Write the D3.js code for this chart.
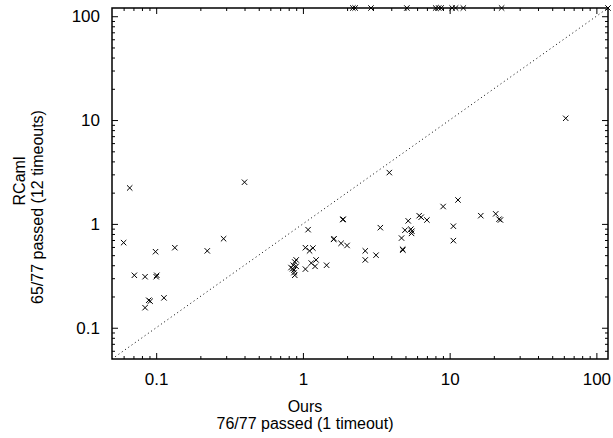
<!DOCTYPE html>
<html lang="en">
<head>
    <meta charset="UTF-8">
    <title>Ours vs RCaml</title>
    <script src="https://d3js.org/d3.v7.min.js"></script>
    <style>
        body {
            margin: 0;
            background: #fff;
        }
        text {
            font-family: "Liberation Sans", Arial, Helvetica, sans-serif;
            fill: #000;
        }
        .tick line { stroke: #000; stroke-width: 1; }
    </style>
</head>
<body>
    <svg id="chart" width="613" height="438"></svg>

    <script>
        // run times in seconds, one entry per benchmark; null = timeout
        const TIMEOUT = 120;
        const oursTimes = [
            0.066, 0.060, 0.099, 0.134, 0.223, 0.288, 0.071, 0.084, 0.100, 0.101,
            0.113, 0.089, 0.091, 0.084, 0.40,
            0.83, 0.86, 0.90, 0.85, 0.87, 0.88, 0.90, 1.04, 1.085, 1.04,
            1.11, 1.17, 1.14, 1.23, 1.21, 1.45, 1.87, 1.88, 1.62, 1.63,
            1.82, 2.0, 2.66, 3.15, 2.66, 3.37, 3.88,
            11.4, 9.03, 16.3, 20.6, 21.7, 22.2, 6.2, 6.4, 7.0, 5.22,
            10.6, 4.96, 5.44, 5.53, 5.5, 4.70, 10.6, 4.78, 4.80, 61.8,
            0.88, 0.87,
            2.19, 2.27, 2.91, 5.11, 8.03, 8.42, 8.75, 10.4, 10.98, 12.4, 22.6,
            null
        ];
        const rcamlTimes = [
            2.22, 0.66, 0.54, 0.59, 0.55, 0.72, 0.32, 0.31, 0.31, 0.32,
            0.194, 0.184, 0.18, 0.156, 2.52,
            0.38, 0.40, 0.45, 0.37, 0.34, 0.32, 0.39, 0.367, 0.88, 0.59,
            0.55, 0.585, 0.42, 0.45, 0.39, 0.40, 1.10, 1.11, 0.71, 0.72,
            0.65, 0.62, 0.55, 0.50, 0.45, 0.92, 3.12,
            1.70, 1.47, 1.20, 1.25, 1.11, 1.09, 1.20, 1.16, 1.09, 1.07,
            0.95, 0.87, 0.89, 0.85, 0.81, 0.73, 0.69, 0.57, 0.56, 10.4,
            0.43, 0.36,
            null, null, null, null, null, null, null, null, null, null, null,
            null
        ];

        const majorTicks = [0.1, 1, 10, 100];
        const minorTicks = [0.06, 0.07, 0.08, 0.09, 0.2, 0.3, 0.4, 0.5, 0.6, 0.7, 0.8, 0.9,
                            2, 3, 4, 5, 6, 7, 8, 9, 20, 30, 40, 50, 60, 70, 80, 90];
        const xLabelLines = ["Ours", "76/77 passed (1 timeout)"];
        const yLabelLines = ["RCaml", "65/77 passed (12 timeouts)"];

        const plotLeft = 112, plotRight = 608, plotTop = 8, plotBottom = 359;
        const TICK_FONT = 17, LABEL_FONT = 16;

        const svg = d3.select('#chart');
        const x = d3.scaleLog().domain([0.05, TIMEOUT]).range([plotLeft, plotRight]);
        const y = d3.scaleLog().domain([0.05, TIMEOUT]).range([plotBottom, plotTop]);

        const fmt = d => d3.format('~g')(d);

        function addAxis(axisFn, scale, transform, ticks, size, labels, pad) {
            const ax = axisFn(scale).tickValues(ticks).tickSize(-size)
                .tickFormat(labels ? fmt : '').tickPadding(pad || 0);
            const g = svg.append('g').attr('transform', transform).call(ax);
            g.select('.domain').remove();
            g.selectAll('text').style('font-size', TICK_FONT + 'px')
                .style('font-family', '"Liberation Sans", Arial, sans-serif');
            return g;
        }

        // major + minor ticks, pointing inward on all four sides
        addAxis(d3.axisBottom, x, `translate(0,${plotBottom})`, majorTicks, 6, true, 14);
        addAxis(d3.axisBottom, x, `translate(0,${plotBottom})`, minorTicks, 3, false);
        addAxis(d3.axisTop, x, `translate(0,${plotTop})`, majorTicks, 6, false);
        addAxis(d3.axisTop, x, `translate(0,${plotTop})`, minorTicks, 3, false);
        addAxis(d3.axisLeft, y, `translate(${plotLeft},0)`, majorTicks, 6, true, 12);
        addAxis(d3.axisLeft, y, `translate(${plotLeft},0)`, minorTicks, 3, false);
        addAxis(d3.axisRight, y, `translate(${plotRight},0)`, majorTicks, 6, false);
        addAxis(d3.axisRight, y, `translate(${plotRight},0)`, minorTicks, 3, false);

        // y = x reference
        svg.append('line')
            .attr('x1', x(0.05)).attr('y1', y(0.05))
            .attr('x2', x(TIMEOUT)).attr('y2', y(TIMEOUT))
            .attr('stroke', '#000')
            .attr('stroke-width', 1)
            .attr('stroke-dasharray', '1,3');

        // frame
        svg.append('rect')
            .attr('x', plotLeft).attr('y', plotTop)
            .attr('width', plotRight - plotLeft).attr('height', plotBottom - plotTop)
            .attr('fill', 'none')
            .attr('stroke', '#000')
            .attr('stroke-width', 1.5);

        const points = oursTimes.map((d, i) => ({
            ours: d === null ? TIMEOUT : d,
            rcaml: rcamlTimes[i] === null ? TIMEOUT : rcamlTimes[i]
        }));

        const r = 2.7;
        svg.append('g').selectAll('path')
            .data(points)
            .join('path')
            .attr('transform', d => `translate(${x(d.ours)},${y(d.rcaml)})`)
            .attr('d', `M${-r},${-r}L${r},${r}M${-r},${r}L${r},${-r}`)
            .attr('stroke', '#000')
            .attr('stroke-width', 1)
            .attr('fill', 'none');

        // axis titles
        const xt = svg.append('text')
            .attr('text-anchor', 'middle')
            .style('font-size', LABEL_FONT + 'px');
        xLabelLines.forEach((t, i) => {
            xt.append('tspan').attr('x', 305).attr('y', 412 + i * 17).text(t);
        });

        const yt = svg.append('text')
            .attr('text-anchor', 'middle')
            .attr('transform', 'rotate(-90)')
            .style('font-size', LABEL_FONT + 'px');
        const yCentres = [-181, -207];
        yLabelLines.forEach((t, i) => {
            yt.append('tspan').attr('x', yCentres[i]).attr('y', 25 + i * 18).text(t);
        });
    </script>
</body>
</html>
